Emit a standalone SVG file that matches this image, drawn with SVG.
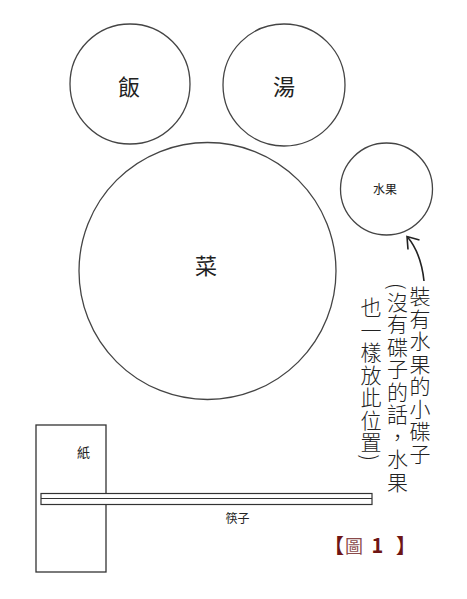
<svg xmlns="http://www.w3.org/2000/svg" width="467" height="599" viewBox="0 0 467 599">
<style>
.plate{fill:#fff;stroke:#444;stroke-width:1.3}
.lbl{font-family:"Noto Sans CJK TC","Noto Sans CJK SC",sans-serif;fill:#222;text-anchor:middle;dominant-baseline:central}
.vt{font-family:"Noto Sans CJK TC","Noto Sans CJK SC",sans-serif;fill:#222;font-size:21px;font-weight:300;writing-mode:vertical-rl;letter-spacing:1.5px}
.line{fill:none;stroke:#222;stroke-width:1.6}
.fig{font-family:"Noto Sans CJK TC","Noto Sans CJK SC",sans-serif;fill:#6e1515;font-size:20px;font-weight:bold}
</style>
<rect width="467" height="599" fill="#fff"/>
<g id="rice">
<circle class="plate" cx="130" cy="84" r="60"/>
<text class="lbl" x="129" y="85" font-size="22">飯</text>
</g>
<g id="soup">
<circle class="plate" cx="284" cy="85" r="61"/>
<text class="lbl" x="284" y="85" font-size="22">湯</text>
</g>
<g id="dish">
<circle class="plate" cx="207.5" cy="271" r="128.5"/>
<text class="lbl" x="206" y="264" font-size="22">菜</text>
</g>
<g id="fruit">
<circle class="plate" cx="386.5" cy="189" r="46"/>
<text class="lbl" x="385" y="188" font-size="12">水果</text>
</g>
<g id="paper">
<rect x="36" y="425" width="70" height="147" fill="#fff" stroke="#333" stroke-width="1.3"/>
<text class="lbl" x="83.5" y="451.5" font-size="13">紙</text>
</g>
<g id="chopsticks">
<rect x="41" y="493.5" width="331" height="11" fill="#fff" stroke="#333" stroke-width="1.2"/>
<line x1="41" y1="498.5" x2="372" y2="498.5" stroke="#333" stroke-width="1.1"/>
<text class="lbl" x="237.5" y="517" font-size="12">筷子</text>
</g>
<g id="connectors">
<path class="line" d="M424,281 Q421,253 407.5,237"/>
<path class="line" d="M419.5,240 L407,236.5 L408,249.5"/>
</g>
<g id="note">
<text class="vt" x="420" y="286">裝有水果的小碟子</text>
<text class="vt" x="397.5" y="283">(沒有碟子的話，水果</text>
<text class="vt" x="371" y="297">也一樣放此位置)</text>
</g>
<g id="caption">
<text class="fig" y="553"><tspan x="324">【</tspan><tspan x="345" font-weight="normal" fill="#8a4a4a" font-size="18">圖</tspan><tspan x="367"> 1</tspan><tspan x="396">】</tspan></text>
</g>
</svg>
